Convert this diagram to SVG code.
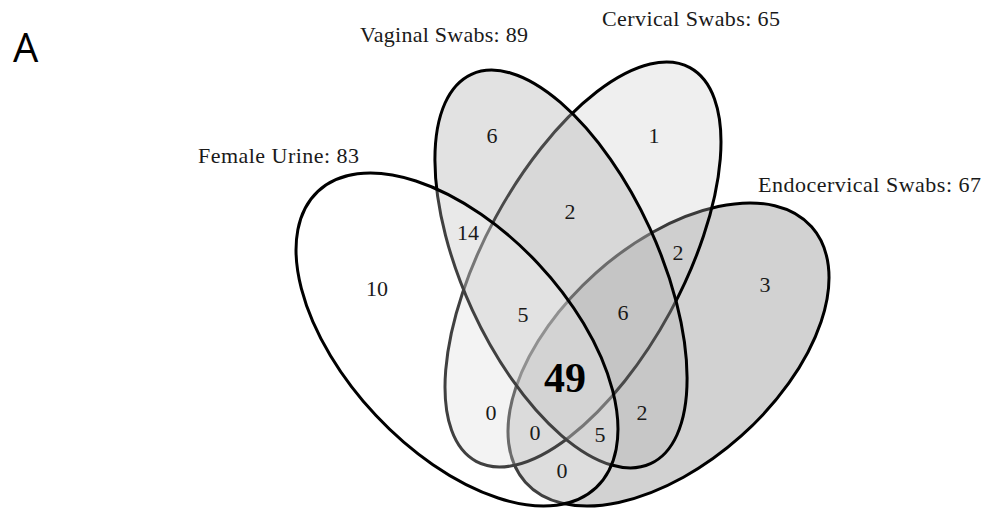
<svg xmlns="http://www.w3.org/2000/svg" width="985" height="511" viewBox="0 0 985 511">
  <style>
    .set { stroke: #000; stroke-width: 3; }
    .title { font-family: "Liberation Serif", "Times New Roman", serif; font-size: 22px; fill: #1a1a1a; }
    .num { font-family: "Liberation Serif", "Times New Roman", serif; font-size: 22px; fill: #1a1a1a; text-anchor: middle; }
    .big { font-family: "Liberation Serif", "Times New Roman", serif; font-size: 42px; font-weight: bold; fill: #000; text-anchor: middle; }
    .panel { font-family: "Open Sans", "Liberation Sans", sans-serif; font-size: 40px; fill: #000; }
  </style>
  <rect width="985" height="511" fill="#ffffff"/>
  <text class="panel" x="13" y="62">A</text>

  <g id="endocervical">
    <ellipse class="set" cx="668.5" cy="354.5" rx="191.8" ry="109.2" transform="rotate(-41.75 668.5 354.5)" fill="#a5a5a5" fill-opacity="0.5"/>
    <text class="title" x="758" y="192" textLength="223" lengthAdjust="spacing">Endocervical Swabs: 67</text>
  </g>
  <g id="cervical">
    <ellipse class="set" cx="583" cy="264.5" rx="224" ry="99.3" transform="rotate(-61.5 583 264.5)" fill="#c8c8c8" fill-opacity="0.29"/>
    <text class="title" x="602" y="26" textLength="178" lengthAdjust="spacing">Cervical Swabs: 65</text>
  </g>
  <g id="vaginal">
    <ellipse class="set" cx="561" cy="269" rx="214.3" ry="97.7" transform="rotate(65.3 561 269)" fill="#b6b6b6" fill-opacity="0.4"/>
    <text class="title" x="360" y="42" textLength="168" lengthAdjust="spacing">Vaginal Swabs: 89</text>
  </g>
  <g id="urine">
    <ellipse class="set" cx="457" cy="339.5" rx="203.2" ry="111.1" transform="rotate(46.8 457 339.5)" fill="#ffffff" fill-opacity="0.25"/>
    <text class="title" x="198" y="163" textLength="161" lengthAdjust="spacing">Female Urine: 83</text>
  </g>

  <g id="counts">
    <text class="num" x="492" y="143">6</text>
    <text class="num" x="654" y="143">1</text>
    <text class="num" x="570" y="219">2</text>
    <text class="num" x="468" y="240">14</text>
    <text class="num" x="377" y="296">10</text>
    <text class="num" x="678" y="260">2</text>
    <text class="num" x="765" y="292">3</text>
    <text class="num" x="523" y="322">5</text>
    <text class="num" x="623" y="320">6</text>
    <text class="big" x="565" y="392">49</text>
    <text class="num" x="491" y="420">0</text>
    <text class="num" x="642" y="420">2</text>
    <text class="num" x="535" y="440">0</text>
    <text class="num" x="600" y="442">5</text>
    <text class="num" x="562" y="478">0</text>
  </g>
</svg>
